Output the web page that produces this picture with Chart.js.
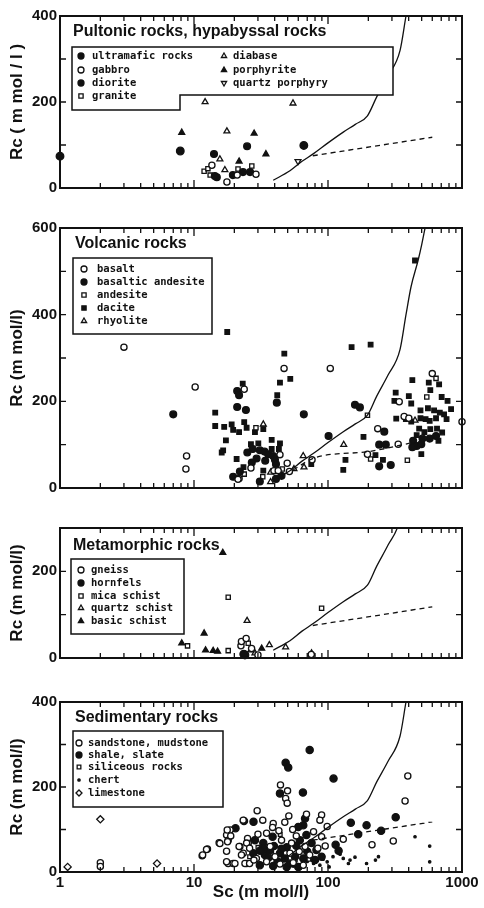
<!DOCTYPE html>
<html>
<head>
<meta charset="utf-8">
<script src="https://cdn.jsdelivr.net/npm/chart.js@4.4.1/dist/chart.umd.min.js"></script>
<style>
  html, body { margin: 0; padding: 0; background: #fff; }
  #wrap { position: relative; width: 484px; height: 908px; overflow: hidden; }
  canvas { position: absolute; left: 0; }
</style>
</head>
<body>
<div id="wrap">
  <canvas id="c1" width="484" height="200" style="top:0px"></canvas>
  <canvas id="c2" width="484" height="295" style="top:205px"></canvas>
  <canvas id="c3" width="484" height="165" style="top:505px"></canvas>
  <canvas id="c4" width="484" height="233" style="top:675px"></canvas>
</div>
<script>
// [Sc, Rc] pairs (m mol/l)

// pultonic / hypabyssal
const ultramafic = [[1, 74], [7.9, 86], [66, 99]];
const gabbro = [[17.6, 14], [29, 32], [13.6, 53], [21, 30]];
const diorite = [[14.1, 79], [24.9, 97], [19.5, 30], [23.2, 37], [26.2, 37], [14.8, 25], [14.3, 28]];
const granite = [[11.9, 39], [12.7, 45], [21.3, 44], [27, 51], [13.2, 30]];
const diabase = [[12.1, 200], [54.8, 197], [17.6, 132], [15.6, 67], [17, 42]];
const porphyrite = [[8.1, 129], [28.1, 127], [34.4, 79], [21.7, 62]];
const quartzPorphyry = [[59.7, 62]];

// volcanic
const basalt = [[3, 325], [10.2, 233], [8.8, 74], [8.7, 44], [47, 276], [104, 276], [23.7, 228], [235, 137],
  [334, 101], [197, 78], [600, 264], [340, 199], [370, 165], [401, 161], [1000, 153], [43.8, 77], [49.6, 57],
  [39.5, 40], [42.5, 40], [51.5, 38], [76, 65], [26.6, 46], [21.7, 22], [21.3, 20]];
const basalticAndesite = [[7, 170], [41.5, 197], [21, 224], [21.7, 214], [21, 187], [24.4, 180], [66, 170],
  [101, 120], [159, 192], [173, 186], [263, 130], [241, 100], [270, 100], [241, 50], [294, 53], [27.4, 90],
  [25, 82], [31, 87], [33.6, 84], [35.8, 78], [39, 74], [40.2, 65], [40.9, 55], [34, 63], [29.3, 68], [27, 59],
  [22, 38], [19.6, 26], [31, 15], [40.9, 21], [45, 28], [432, 109], [459, 97], [497, 101], [426, 94],
  [507, 114], [574, 114], [640, 120]];
const andesite = [[29, 139], [45.6, 44], [23.7, 32], [32.6, 26], [197, 168], [208, 67], [391, 64], [640, 253], [546, 210]];
const dacite = [[17.7, 360], [47.2, 310], [52.3, 252], [43.8, 243], [41.8, 214], [23.1, 241], [14.4, 174],
  [14.4, 143], [16.8, 141], [19.1, 147], [19.6, 134], [21.7, 129], [23.7, 152], [24.7, 139], [32.9, 136],
  [28.5, 129], [17.3, 110], [16.5, 87], [16.1, 82], [20.8, 67], [26.6, 101], [30.2, 103], [38, 111], [43.8, 103],
  [38, 90], [43, 90], [23.4, 48], [32.9, 40], [75, 55], [150, 325], [208, 331], [184, 118], [135, 65], [130, 42],
  [226, 76], [257, 65], [446, 525], [426, 249], [565, 243], [675, 239], [580, 226], [320, 220], [401, 212],
  [705, 210], [780, 201], [313, 201], [418, 195], [829, 182], [490, 179], [557, 184], [619, 179], [683, 174],
  [735, 170], [323, 160], [381, 159], [418, 153], [490, 161], [535, 159], [574, 155], [640, 161], [767, 159],
  [479, 137], [524, 129], [580, 136], [651, 137], [711, 128], [459, 122], [667, 109], [497, 78]];
const rhyolite = [[32.9, 147], [37.3, 36], [55.7, 44], [65.3, 74], [66.2, 48], [37.3, 14], [131, 100], [446, 156]];

// metamorphic
const gneiss = [[22.4, 28], [22.6, 38], [24.5, 45], [26.9, 22], [75, 8], [30, 7]];
const hornfels = [[24, 7], [23.5, 9]];
const micaSchist = [[18, 140], [89.6, 115], [8.95, 28], [18, 17], [25.4, 34]];
const quartzSchist = [[24.9, 86], [28.5, 11], [36.5, 30], [48.3, 25], [75.4, 11], [26.5, 18]];
const basicSchist = [[16.4, 243], [11.9, 57], [8.1, 34], [12.2, 18], [13.9, 17], [15, 15], [32, 22]];

// sedimentary
const sandstone = [[2, 22], [2, 13], [11.5, 38], [12.6, 54], [15.4, 69], [17.5, 87], [18.6, 99], [18, 75],
  [17.5, 49], [18, 20], [19.6, 20], [22, 60], [23.3, 44], [25.4, 68], [24.7, 20], [29.6, 144], [44.2, 205],
  [49.9, 191], [48.3, 173], [49.6, 162], [51, 132], [32.6, 122], [23.3, 122], [89.6, 134], [87, 122], [69.1, 136],
  [39, 114], [38.6, 105], [47.6, 117], [17.7, 99], [18.8, 85], [17.8, 71], [15.6, 67], [30, 89], [25.1, 79],
  [21.7, 60], [12.4, 53], [11.6, 40], [17.5, 24], [20.2, 20], [24, 20], [394, 226], [376, 167], [130, 77],
  [98.6, 107], [213, 64], [307, 73], [34.8, 91], [43, 97], [54.5, 100], [78, 95], [89.6, 83], [24.7, 68], [26, 56],
  [45, 75], [53.5, 68], [67.4, 60], [95.3, 61], [22.6, 40], [29.2, 32], [40.2, 36], [52, 44], [61, 48], [73, 40],
  [26, 20], [34.8, 24], [43.8, 19], [55, 22], [65.4, 16], [28, 28], [37, 60], [58, 85], [84, 56]];
const shale = [[73, 287], [48.3, 257], [50.5, 246], [110, 220], [43.8, 185], [65, 187], [27.8, 118], [23.6, 120],
  [67.4, 126], [65.4, 110], [60, 106], [20.4, 103], [320, 129], [148, 116], [194, 110], [249, 97], [168, 89],
  [114, 64], [120, 50], [38.6, 83], [69, 87], [28.5, 75], [32.9, 68], [39.5, 61], [49.2, 58], [61.6, 75],
  [75.4, 68], [82, 52], [27.7, 44], [33.8, 40], [36.8, 52], [43.8, 44], [47.6, 32], [56.7, 36], [65.4, 32],
  [80, 28], [89.6, 36], [31, 16], [39, 14], [49.2, 12], [60, 12], [36, 34], [42, 25], [52, 20], [45, 55],
  [33, 56], [58, 62], [70, 48], [31, 50]];
const siliceous = [[30, 58], [38, 47], [57, 28], [44, 88], [72, 30], [26, 36]];
const chert = [[446, 83], [574, 61], [574, 24], [238, 36], [226, 28], [194, 20], [159, 35], [146, 28], [130, 32],
  [142, 20], [123, 42], [109, 36], [98.6, 24], [87, 16], [78, 20], [70, 25], [92, 30], [102, 12], [62, 8], [55, 14]];
const limestone = [[1.14, 12], [2, 124], [5.3, 20]];

// reference curves
const curve = [[39, 18], [52, 40], [64, 62], [78, 80], [100, 105], [130, 130], [160, 148], [197, 168], [231, 212],
  [280, 260], [345, 320], [382, 400], [417, 465], [470, 525], [500, 561], [530, 600]];
const dashLine = [[77, 75], [600, 118]];
const dashLineVolcanic = [[55, 42], [80, 70], [200, 84], [446, 106]];

const yMax = [400, 600, 300, 400];
const decades = [1, 10, 100, 1000];

const INK = '#111';
const SANS = "'Liberation Sans', Arial, sans-serif";
const MONO = "'DejaVu Sans Mono', monospace";

function xy(arr) { return arr.map(p => ({ x: p[0], y: p[1] })); }

// marker looks
const FILLED_CIRCLE = { pointStyle: 'circle', r: 3.4, fill: INK };
const OPEN_CIRCLE = { pointStyle: 'circle', r: 3.1, fill: '#fff' };
const FILLED_SQ = { pointStyle: 'rect', r: 3.2, fill: INK };
const OPEN_SQ = { pointStyle: 'rect', r: 3, fill: '#fff' };
const OPEN_TRI = { pointStyle: 'triangle', r: 3.4, fill: '#fff' };
const FILLED_TRI = { pointStyle: 'triangle', r: 3.4, fill: INK };

function pts(label, arr, look, extra) {
  return Object.assign({
    label: label,
    data: xy(arr),
    showLine: false,
    pointStyle: look.pointStyle,
    pointRadius: look.r,
    pointRotation: look.rot || 0,
    backgroundColor: look.fill,
    borderColor: INK,
    borderWidth: 1.3,
    clip: false
  }, extra || {});
}

function line(arr, dash) {
  return {
    label: '',
    data: xy(arr),
    showLine: true,
    pointRadius: 0,
    borderColor: INK,
    borderWidth: 1.3,
    borderDash: dash ? [5, 4] : [],
    cubicInterpolationMode: 'monotone',
    fill: false
  };
}

// inward ticks on all four sides and the heavy frame
const frameTicks = {
  id: 'frameTicks',
  afterDraw(chart) {
    const { ctx, chartArea: a } = chart;
    const x = chart.scales.x, y = chart.scales.y;
    ctx.save();
    ctx.strokeStyle = INK;
    ctx.lineWidth = 1.3;
    ctx.beginPath();
    for (let e = 0; e < 3; e++) {
      for (let m = 1; m <= 9; m++) {
        const v = m * Math.pow(10, e);
        if (v === 1) continue;
        const px = x.getPixelForValue(v);
        const len = m === 1 ? 8 : 5;
        ctx.moveTo(px, a.bottom); ctx.lineTo(px, a.bottom - len);
        ctx.moveTo(px, a.top); ctx.lineTo(px, a.top + len);
      }
    }
    for (let v = 100; v < y.max; v += 100) {
      const py = y.getPixelForValue(v);
      ctx.moveTo(a.left, py); ctx.lineTo(a.left + 6, py);
      ctx.moveTo(a.right, py); ctx.lineTo(a.right - 6, py);
    }
    ctx.stroke();
    ctx.lineWidth = 2;
    ctx.strokeRect(a.left, a.top, a.right - a.left, a.bottom - a.top);
    ctx.restore();
  }
};

// boxed legend + panel title drawn inside the plot
function boxLegend(cfg) {
  return {
    id: 'boxLegend',
    afterDatasetsDraw(chart) {
      const ctx = chart.ctx;
      ctx.save();
      ctx.fillStyle = INK;
      ctx.font = 'bold 16px ' + SANS;
      ctx.textBaseline = 'middle';
      ctx.fillText(cfg.title, cfg.tx, cfg.ty);

      ctx.beginPath();
      cfg.box.forEach((p, i) => i ? ctx.lineTo(p[0], p[1]) : ctx.moveTo(p[0], p[1]));
      ctx.closePath();
      ctx.fillStyle = '#fff';
      ctx.fill();
      ctx.strokeStyle = INK;
      ctx.lineWidth = 1.5;
      ctx.stroke();

      ctx.font = 'bold 10.5px ' + MONO;
      cfg.items.forEach(it => {
        const ds = chart.data.datasets[it[0]];
        ctx.fillStyle = ds.backgroundColor;
        ctx.strokeStyle = INK;
        ctx.lineWidth = ds.borderWidth;
        Chart.helpers.drawPoint(ctx, {
          pointStyle: ds.pointStyle,
          radius: Math.min(ds.pointRadius, 3),
          rotation: ds.pointRotation || 0,
          borderWidth: ds.borderWidth
        }, it[1], it[3]);
        ctx.fillStyle = INK;
        ctx.fillText(ds.label, it[2], it[3]);
      });
      ctx.restore();
    }
  };
}

function isDecade(v) {
  const l = Math.log10(v);
  return Math.abs(l - Math.round(l)) < 1e-9;
}

function makeChart(id, datasets, opts) {
  const last = !!opts.last;
  const xHeight = last ? 36 : opts.padBottom;
  return new Chart(document.getElementById(id), {
    type: 'scatter',
    data: { datasets: datasets },
    options: {
      responsive: false,
      animation: false,
      devicePixelRatio: 1,
      layout: { padding: { top: opts.padTop, right: 22, left: 0, bottom: 0 } },
      plugins: { legend: { display: false }, tooltip: { enabled: false } },
      scales: {
        x: {
          type: 'logarithmic',
          min: 1,
          max: 1000,
          display: true,
          grid: { display: false, drawTicks: false },
          border: { display: false },
          ticks: {
            display: last,
            autoSkip: false,
            maxRotation: 0,
            padding: 2,
            color: INK,
            font: { family: SANS, size: 15, weight: 'bold' },
            callback: v => (decades.includes(v) || isDecade(v)) ? String(Math.round(v)) : ''
          },
          title: {
            display: last,
            text: 'Sc (m mol/l)',
            color: INK,
            font: { family: SANS, size: 17, weight: 'bold' },
            padding: { top: 0, bottom: 5 }
          },
          afterFit: s => { s.height = xHeight; }
        },
        y: {
          type: 'linear',
          min: 0,
          max: opts.yMax,
          grid: { display: false, drawTicks: false },
          border: { display: false },
          ticks: {
            stepSize: 100,
            padding: 3,
            color: INK,
            font: { family: SANS, size: 15, weight: 'bold' },
            callback: v => v % 200 === 0 ? v : ''
          },
          title: {
            display: true,
            text: opts.yTitle,
            color: INK,
            font: { family: SANS, size: 17, weight: 'bold' },
            padding: { top: 7, bottom: 0 }
          },
          afterFit: s => { s.width = 60; }
        }
      }
    },
    plugins: [frameTicks, boxLegend(opts.legend)]
  });
}

makeChart('c1', [
  line(curve, false),
  line(dashLine, true),
  pts('ultramafic rocks', ultramafic, { pointStyle: 'circle', r: 3.8, fill: INK }),
  pts('gabbro', gabbro, OPEN_CIRCLE),
  pts('diorite', diorite, FILLED_CIRCLE),
  pts('granite', granite, OPEN_SQ),
  pts('diabase', diabase, OPEN_TRI),
  pts('porphyrite', porphyrite, FILLED_TRI),
  pts('quartz porphyry', quartzPorphyry, { pointStyle: 'triangle', r: 3.4, fill: '#fff', rot: 180 })
], {
  padTop: 16, padBottom: 11, yMax: yMax[0], yTitle: 'Rc ( m mol / l )',
  legend: {
    title: 'Pultonic rocks, hypabyssal rocks', tx: 73, ty: 32,
    box: [[72, 47], [393, 47], [393, 95], [180, 95], [180, 110], [72, 110]],
    items: [[2, 81, 92, 56], [3, 81, 92, 70], [4, 81, 92, 83], [5, 81, 92, 96],
            [6, 224, 233, 56], [7, 224, 233, 70], [8, 224, 233, 83]]
  }
});

makeChart('c2', [
  line(curve, false),
  line(dashLineVolcanic, true),
  pts('basalt', basalt, OPEN_CIRCLE),
  pts('basaltic andesite', basalticAndesite, FILLED_CIRCLE),
  pts('andesite', andesite, OPEN_SQ),
  pts('dacite', dacite, FILLED_SQ),
  pts('rhyolite', rhyolite, OPEN_TRI)
], {
  padTop: 23, padBottom: 11, yMax: yMax[1], yTitle: 'Rc (m mol/l)',
  legend: {
    title: 'Volcanic rocks', tx: 75, ty: 39,
    box: [[73, 53], [212, 53], [212, 129], [73, 129]],
    items: [[2, 84, 97, 64], [3, 84, 97, 77], [4, 84, 97, 90], [5, 84, 97, 103], [6, 84, 97, 116]]
  }
});

makeChart('c3', [
  line(curve, false),
  line(dashLine, true),
  pts('gneiss', gneiss, OPEN_CIRCLE),
  pts('hornfels', hornfels, { pointStyle: 'circle', r: 3.8, fill: INK }),
  pts('mica schist', micaSchist, OPEN_SQ),
  pts('quartz schist', quartzSchist, OPEN_TRI),
  pts('basic schist', basicSchist, FILLED_TRI)
], {
  padTop: 23, padBottom: 12, yMax: yMax[2], yTitle: 'Rc (m mol/l)',
  legend: {
    title: 'Metamorphic rocks', tx: 73, ty: 41,
    box: [[71, 54], [184, 54], [184, 129], [71, 129]],
    items: [[2, 81, 91, 65], [3, 81, 91, 78], [4, 81, 91, 91], [5, 81, 91, 103], [6, 81, 91, 116]]
  }
});

makeChart('c4', [
  line(curve, false),
  line(dashLine, true),
  pts('sandstone, mudstone', sandstone, OPEN_CIRCLE),
  pts('shale, slate', shale, { pointStyle: 'circle', r: 3.6, fill: INK }),
  pts('siliceous rocks', siliceous, { pointStyle: 'rect', r: 2.6, fill: '#fff' }),
  pts('chert', chert, { pointStyle: 'circle', r: 1.2, fill: INK }),
  pts('limestone', limestone, { pointStyle: 'rectRot', r: 3.6, fill: '#fff' })
], {
  last: true, padTop: 27, yMax: yMax[3], yTitle: 'Rc (m mol/l)',
  legend: {
    title: 'Sedimentary rocks', tx: 75, ty: 43,
    box: [[73, 56], [223, 56], [223, 132], [73, 132]],
    items: [[2, 79, 88, 68], [3, 79, 88, 80], [4, 79, 88, 92], [5, 79, 88, 105], [6, 79, 88, 118]]
  }
});
</script>
</body>
</html>
